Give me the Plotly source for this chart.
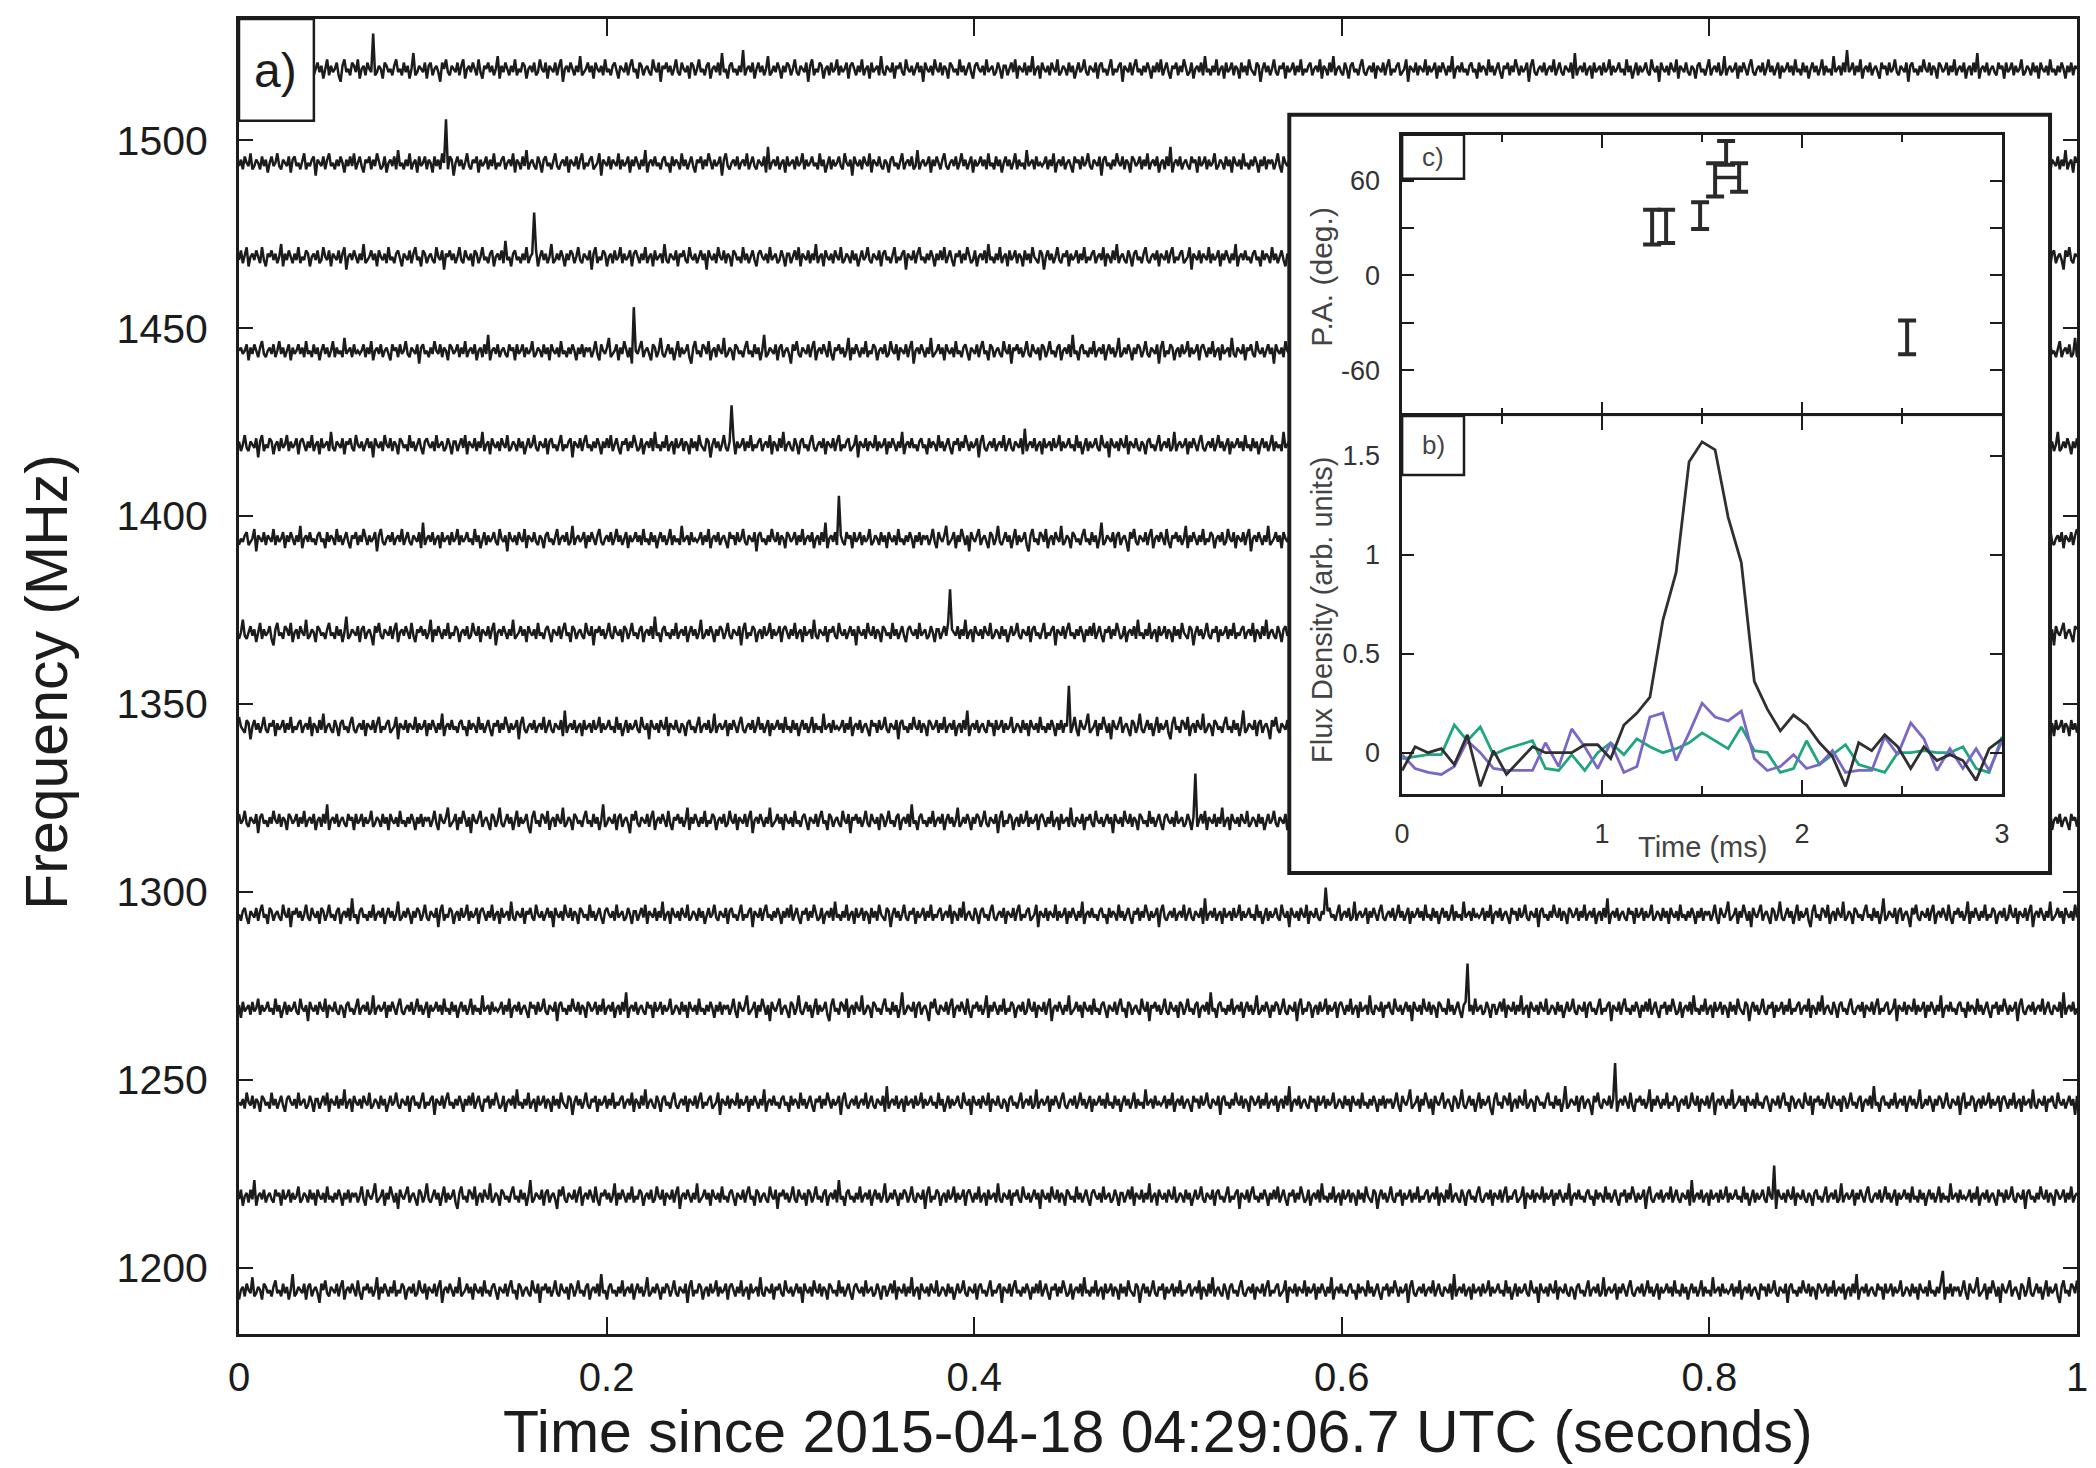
import plotly.graph_objects as go

# ---------------- main panel a) data ----------------
CHANNEL_MHZ = [1519, 1494, 1469, 1444, 1419, 1394, 1369, 1344, 1319, 1294, 1269, 1244, 1219, 1194]
PULSE_TIME_S = [0.073, 0.113, 0.161, 0.215, 0.268, 0.326, 0.387, 0.451, 0.520, 0.591, 0.668, 0.749, 0.835, 0.927]
PULSE_HEIGHT_MHZ = [9.4, 11.6, 11.8, 11.6, 10.5, 11.4, 11.5, 10.8, 12.5, 7.1, 11.9, 10.4, 8.1, 5.1]
EXTRA_CHANNEL = [0, 0]
EXTRA_TIME_S = [0.274, 0.875]
EXTRA_HEIGHT_MHZ = [5.0, 5.0]
NOISE_UNIT_MHZ = 0.85
NOISE_START = [0, 421, 113, 777, 287, 601, 35, 527, 861, 193, 705, 359, 899, 63]
NOISE = [
    1,-2,0,3,-1,-3,2,0,-1,1,4,-2,-1,0,2,-3,1,-1,3,0,-2,1,-4,2,0,-1,1,3,-2,0,1,-1,-3,2,1,-2,0,4,-1,-2,
    0,2,-1,1,-3,0,3,-2,1,-1,0,2,-2,-4,1,3,-1,0,-2,2,1,-1,3,-3,0,1,-2,2,0,-1,4,-2,-1,1,0,-3,2,1,-1,0,
    -2,1,3,-1,0,-2,2,-1,1,-3,0,5,-2,-1,1,0,-1,2,-3,1,2,-2,0,1,-1,-4,2,0,3,-1,-2,1,0,-1,2,-2,1,3,-3,0,
    1,-1,2,0,-2,3,-1,-3,1,0,2,-1,1,-2,0,4,-3,1,-1,2,0,-2,1,-1,3,-2,0,-1,2,1,-3,0,1,-1,2,-2,-1,3,0,-1,
    2,-3,1,0,-1,2,-2,1,3,-4,0,1,-1,2,0,-2,1,-1,4,-2,-1,0,2,-1,1,-3,2,0,-1,1,-2,3,-1,0,-2,1,2,-1,-3,1,
    0,-1,2,-2,1,3,-1,0,-3,2,1,-2,0,1,-1,-2,3,0,-1,2,-4,1,0,2,-1,1,-2,0,3,-1,-2,2,0,-1,1,-3,2,1,-2,0,
    3,-1,0,-2,1,2,-3,0,1,-1,2,-2,5,-1,0,-3,1,2,-1,0,-2,1,-1,3,-2,0,1,-1,2,-3,0,2,-1,1,-2,0,4,-2,-1,1,
    -1,2,0,-3,1,-1,2,1,-2,0,3,-1,-2,1,0,-1,2,-4,1,3,-2,0,-1,2,1,-3,0,1,-2,2,-1,0,3,-2,1,-1,0,2,-3,1,
    2,0,-2,1,-1,3,-2,0,1,-3,2,-1,0,1,-2,4,-1,-2,1,0,-1,2,-3,1,0,2,-1,-2,3,0,-1,1,-2,0,2,-1,1,-4,2,0,
    -1,1,-2,3,0,-1,2,-2,1,0,-3,2,1,-1,0,-2,3,-1,1,-2,0,2,-1,-3,1,2,0,-1,1,-2,3,-1,0,1,-2,-1,2,0,-3,1,
    1,-2,0,2,-1,3,-3,1,0,-1,2,-2,1,-1,4,-2,0,1,-3,2,0,-1,1,-2,2,0,-1,3,-2,-1,1,0,-2,2,-1,1,-3,0,2,-1,
    0,3,-1,-2,1,0,-1,2,-3,1,2,-1,0,-2,1,3,-2,0,-1,1,2,-4,1,0,-1,2,-2,1,3,-1,0,-2,1,-1,2,0,-3,1,-1,2,
    -1,3,-2,0,2,-1,-3,1,0,2,-2,1,-1,3,0,-2,-1,2,-3,0,1,-1,2,-2,4,-1,0,-2,1,-1,3,-2,0,1,-3,2,-1,0,2,-2,
    1,0,-3,2,-1,1,-2,3,0,-1,-2,2,1,-4,0,2,-1,1,-2,0,3,-1,-2,1,0,2,-3,1,-1,0,2,-2,1,-1,3,-2,0,-1,1,2,
    -2,0,1,-1,3,-3,1,0,-2,2,-1,4,-2,0,1,-1,-2,2,0,-3,1,2,-1,0,-2,1,3,-1,-2,0,1,-1,2,-3,1,0,-1,2,-2,1,
    3,-2,0,-1,1,2,-2,-1,0,3,-4,1,0,-1,2,-2,1,0,-1,3,-2,1,-1,0,2,-3,1,-1,2,0,-2,1,-1,4,-3,0,1,-1,2,-1,
    0,-2,1,2,-1,0,-3,2,-1,1,0,-2,3,-1,1,-2,0,2,-1,-3,1,0,2,-2,1,-1,3,0,-2,1,-1,0,2,-4,1,3,-1,-2,0,1,
    -1,2,-2,0,1,-1,3,-2,0,2,-1,-2,1,0,-1,2,-3,5,-2,0,1,-1,2,-2,0,1,-3,2,-1,0,1,-2,2,-1,0,3,-2,1,-1,0,
    2,-1,0,-2,3,-1,1,-3,0,2,-2,1,-1,0,2,-1,-2,3,0,-1,1,-4,2,0,-1,1,-2,2,0,-1,3,-3,1,0,-1,2,-1,-2,1,0,
    -3,1,2,-1,0,-2,1,3,-2,0,1,-1,2,-2,-1,4,-2,0,1,-1,0,2,-3,1,-1,2,0,-2,1,3,-1,-2,0,1,-1,2,-2,0,3,-1,
    1,-2,0,2,-3,1,-1,0,2,-1,1,-2,3,-1,0,-2,2,-1,1,-3,0,2,-1,1,-2,0,3,-2,1,-1,0,-2,4,-1,0,1,-2,2,-1,0,
    -1,0,2,-2,1,-1,3,-3,0,1,-1,2,-2,0,1,-1,-3,2,0,1,-2,2,-1,0,3,-1,-2,1,0,-1,2,-4,1,2,-1,0,-2,1,-1,3,
    0,-1,2,-2,1,0,-3,2,1,-1,0,2,-2,1,-1,3,-2,0,1,-1,2,-3,0,1,-2,2,-1,5,-3,0,1,-1,2,-2,0,1,-1,-2,2,0,
    1,-3,2,-1,0,2,-2,1,-1,0,3,-2,-1,1,0,-2,2,-1,1,-3,2,0,-1,1,-2,3,-1,0,-2,1,-1,2,0,-3,1,-1,2,-2,1,0,
]
X_TICKS = [0, 0.2, 0.4, 0.6, 0.8, 1]
X_TICK_TEXT = ["0", "0.2", "0.4", "0.6", "0.8", "1"]
Y_TICKS = [1200, 1250, 1300, 1350, 1400, 1450, 1500]

# ---------------- inset b) flux density ----------------
FLUX_T_MS = [0.000, 0.065, 0.130, 0.196, 0.261, 0.326, 0.391, 0.457, 0.522, 0.587,
             0.652, 0.717, 0.783, 0.848, 0.913, 0.978, 1.043, 1.109, 1.174, 1.239,
             1.304, 1.370, 1.435, 1.500, 1.565, 1.630, 1.696, 1.761, 1.826, 1.891,
             1.957, 2.022, 2.087, 2.152, 2.217, 2.283, 2.348, 2.413, 2.478, 2.543,
             2.609, 2.674, 2.739, 2.804, 2.870, 2.935, 3.000]
FLUX_TOTAL = [-0.09, 0.03, 0.00, 0.02, -0.06, 0.09, -0.17, 0.01, -0.11, -0.04,
              0.03, 0.00, 0.00, 0.00, 0.04, 0.04, -0.03, 0.14, 0.20, 0.28,
              0.67, 0.91, 1.47, 1.57, 1.53, 1.19, 0.96, 0.36, 0.22, 0.11,
              0.19, 0.14, 0.05, -0.02, -0.17, 0.05, 0.01, 0.09, 0.03, -0.08,
              0.03, -0.04, -0.01, -0.04, -0.14, 0.02, 0.07]
FLUX_PURPLE = [-0.01, -0.08, -0.10, -0.11, -0.07, 0.06, 0.00, -0.08, -0.09, -0.09,
               -0.09, 0.05, -0.07, 0.12, 0.03, -0.08, 0.05, -0.10, -0.07, 0.18,
               0.20, -0.04, 0.10, 0.25, 0.18, 0.16, 0.21, -0.03, -0.09, -0.07,
               -0.01, -0.08, -0.06, 0.01, -0.10, -0.09, -0.09, 0.08, -0.01, 0.15,
               0.07, -0.09, 0.02, -0.08, 0.02, -0.09, 0.06]
FLUX_GREEN = [-0.03, -0.02, -0.01, -0.01, 0.14, 0.06, 0.13, -0.01, 0.02, 0.04,
              0.06, -0.08, -0.09, -0.01, -0.09, 0.00, 0.05, -0.01, 0.07, 0.03,
              0.00, 0.02, 0.05, 0.10, 0.06, 0.02, 0.13, 0.01, 0.00, -0.10,
              -0.08, 0.06, -0.06, -0.01, 0.04, -0.06, -0.08, -0.10, 0.00, 0.00,
              0.01, 0.00, 0.00, 0.03, -0.08, -0.10, 0.08]

# ---------------- inset c) position angle ----------------
PA_T_MS = [1.25, 1.32, 1.49, 1.565, 1.62, 1.685, 2.525]
PA_DEG = [30.5, 31.0, 37.8, 60.5, 77.5, 62.0, -39.2]
PA_ERR = [11.0, 10.5, 8.5, 10.5, 7.5, 9.0, 10.7]
PA_T_ERR_MINUS = [0, 0, 0, 0, 0, 0.12, 0]
PA_T_ERR_PLUS = [0, 0, 0, 0, 0, 0, 0]

# ---------------- layout geometry (page pixels) ----------------
PAGE_OFF = 8            # default body margin of the written html page
W, H = 2096, 1468
PLOT_L, PLOT_R, PLOT_T, PLOT_B = 239, 2080, 16, 1334
PW, PH = PLOT_R - PLOT_L, PLOT_B - PLOT_T


def px(x):
    return (x - PLOT_L) / PW


def py(y):
    return (PLOT_B - y) / PH


INK = "#1c1c1c"
FONT = "Liberation Sans, Arial, Helvetica, sans-serif"

fig = go.Figure()

# main traces
n = len(NOISE)
t_axis = [i / (n - 1) for i in range(n)]
for k, base in enumerate(CHANNEL_MHZ):
    ys = [base + NOISE_UNIT_MHZ * NOISE[(NOISE_START[k] + i) % n] for i in range(n)]
    j = round(PULSE_TIME_S[k] * (n - 1))
    ys[j] = base + PULSE_HEIGHT_MHZ[k]
    for c, te, he in zip(EXTRA_CHANNEL, EXTRA_TIME_S, EXTRA_HEIGHT_MHZ):
        if c == k:
            ys[round(te * (n - 1))] = base + he
    fig.add_trace(go.Scatter(x=t_axis, y=ys, mode="lines",
                             line=dict(color=INK, width=2.5),
                             hoverinfo="skip", showlegend=False,
                             xaxis="x", yaxis="y"))

# dummy subplot giving the white inset background
fig.add_trace(go.Scatter(x=[], y=[], xaxis="x2", yaxis="y2", showlegend=False, hoverinfo="skip"))

# panel c: position angle
fig.add_trace(go.Scatter(
    x=PA_T_MS, y=PA_DEG, mode="markers", xaxis="x3", yaxis="y3",
    marker=dict(size=1, color="rgba(0,0,0,0)"),
    error_y=dict(type="data", array=PA_ERR, color="#2a2a2a", thickness=4, width=9),
    error_x=dict(type="data", symmetric=False, array=PA_T_ERR_PLUS, arrayminus=PA_T_ERR_MINUS,
                 color="#2a2a2a", thickness=3.5, width=0),
    showlegend=False, hoverinfo="skip"))

# panel b: flux density
fig.add_trace(go.Scatter(x=FLUX_T_MS, y=FLUX_GREEN, mode="lines", xaxis="x4", yaxis="y4",
                         line=dict(color="#1fa67f", width=2.8), showlegend=False, hoverinfo="skip"))
fig.add_trace(go.Scatter(x=FLUX_T_MS, y=FLUX_PURPLE, mode="lines", xaxis="x4", yaxis="y4",
                         line=dict(color="#7b68c6", width=2.8), showlegend=False, hoverinfo="skip"))
fig.add_trace(go.Scatter(x=FLUX_T_MS, y=FLUX_TOTAL, mode="lines", xaxis="x4", yaxis="y4",
                         line=dict(color="#303030", width=2.8), showlegend=False, hoverinfo="skip"))

# inset geometry in paper coords
IN_X0, IN_X1 = px(1291), px(2053)
IN_Y0, IN_Y1 = py(872), py(112)
P_X0, P_X1 = px(1404), px(2005)
C_Y0, C_Y1 = py(414), py(132)
B_Y0, B_Y1 = py(793), py(414)

axis_common = dict(showgrid=False, zeroline=False, showline=True, mirror="allticks",
                   linecolor=INK, ticks="inside", tickcolor=INK)
INSET_TICK_FONT = dict(size=27, color="#333")

fig.update_layout(
    width=W - PAGE_OFF, height=H - PAGE_OFF,
    margin=dict(l=PLOT_L - PAGE_OFF, r=W - PLOT_R, t=PLOT_T - PAGE_OFF, b=H - PLOT_B),
    paper_bgcolor="white", plot_bgcolor="white",
    hovermode=False,
    font=dict(family=FONT, color=INK),
    xaxis=dict(domain=[0, 1], range=[0, 1], tickvals=X_TICKS, ticktext=X_TICK_TEXT,
               ticklen=17, tickwidth=2, linewidth=3, tickfont=dict(size=40, color=INK),
               ticklabelstandoff=6, anchor="y", **axis_common),
    yaxis=dict(domain=[0, 1], range=[1182.3, 1532.3], tickvals=Y_TICKS,
               ticklen=14, tickwidth=2, linewidth=3, tickfont=dict(size=41, color=INK),
               ticklabelstandoff=20, anchor="x", **axis_common),
    xaxis2=dict(domain=[IN_X0, IN_X1], range=[0, 1], visible=True, showgrid=False, zeroline=False,
                showline=False, ticks="", showticklabels=False, anchor="y2"),
    yaxis2=dict(domain=[IN_Y0, IN_Y1], range=[0, 1], visible=True, showgrid=False, zeroline=False,
                showline=False, ticks="", showticklabels=False, anchor="x2"),
    xaxis3=dict(domain=[P_X0, P_X1], range=[0, 3], tickvals=[1, 2], showticklabels=False,
                ticklen=14, tickwidth=2, linewidth=2.5, anchor="y3",
                minor=dict(tickvals=[0.5, 1.5, 2.5], ticklen=8, tickwidth=2, ticks="inside", tickcolor=INK),
                **axis_common),
    yaxis3=dict(domain=[C_Y0, C_Y1], range=[-89, 89], tickvals=[-60, -30, 0, 30, 60],
                ticktext=["-60", "", "0", "", "60"], ticklen=12, tickwidth=2, linewidth=2.5,
                tickfont=INSET_TICK_FONT, ticklabelstandoff=14, anchor="x3", **axis_common),
    xaxis4=dict(domain=[P_X0, P_X1], range=[0, 3], tickvals=[0, 1, 2, 3], ticktext=["0", "1", "2", "3"],
                ticklen=14, tickwidth=2, linewidth=2.5, tickfont=INSET_TICK_FONT,
                ticklabelstandoff=14, anchor="y4",
                minor=dict(tickvals=[0.5, 1.5, 2.5], ticklen=8, tickwidth=2, ticks="inside", tickcolor=INK),
                **axis_common),
    yaxis4=dict(domain=[B_Y0, B_Y1], range=[-0.21, 1.70], tickvals=[0, 0.5, 1, 1.5],
                ticktext=["0", "0.5", "1", "1.5"], ticklen=12, tickwidth=2, linewidth=2.5,
                tickfont=INSET_TICK_FONT, ticklabelstandoff=14, anchor="x4", **axis_common),
)

shapes = [
    # inset frame
    dict(type="rect", xref="paper", yref="paper", x0=IN_X0, x1=IN_X1, y0=IN_Y0, y1=IN_Y1,
         line=dict(color=INK, width=4), fillcolor="rgba(0,0,0,0)", layer="above"),
    # a) box
    dict(type="rect", xref="paper", yref="paper", x0=0, x1=px(314), y0=py(118), y1=1,
         line=dict(color=INK, width=2.5), fillcolor="white", layer="above"),
    # c) box
    dict(type="rect", xref="paper", yref="paper", x0=P_X0, x1=px(1466), y0=py(176), y1=C_Y1,
         line=dict(color=INK, width=2.5), fillcolor="white", layer="above"),
    # b) box
    dict(type="rect", xref="paper", yref="paper", x0=P_X0, x1=px(1466), y0=py(473), y1=B_Y1,
         line=dict(color=INK, width=2.5), fillcolor="white", layer="above"),
]
fig.update_layout(shapes=shapes)

annotations = [
    dict(text="a)", x=px(276), y=py(68), xref="paper", yref="paper", showarrow=False,
         font=dict(size=48, color=INK), xanchor="center", yanchor="middle"),
    dict(text="c)", x=px(1435), y=py(154), xref="paper", yref="paper", showarrow=False,
         font=dict(size=26, color="#444"), xanchor="center", yanchor="middle"),
    dict(text="b)", x=px(1435), y=py(443), xref="paper", yref="paper", showarrow=False,
         font=dict(size=26, color="#444"), xanchor="center", yanchor="middle"),
    dict(text="Time (ms)", x=px(1705), y=py(846), xref="paper", yref="paper", showarrow=False,
         font=dict(size=29, color="#444"), xanchor="center", yanchor="middle"),
    dict(text="P.A. (deg.)", x=px(1323), y=py(274), xref="paper", yref="paper", showarrow=False,
         textangle=-90, font=dict(size=30, color="#444"), xanchor="center", yanchor="middle"),
    dict(text="Flux Density (arb. units)", x=px(1323), y=py(608), xref="paper", yref="paper",
         showarrow=False, textangle=-90, font=dict(size=29, color="#444"),
         xanchor="center", yanchor="middle"),
    dict(text="Time since 2015-04-18 04:29:06.7 UTC (seconds)", x=0.5, y=py(1432),
         xref="paper", yref="paper", showarrow=False, font=dict(size=59, color=INK),
         xanchor="center", yanchor="middle"),
    dict(text="Frequency (MHz)", x=px(47), y=py(680), xref="paper", yref="paper",
         showarrow=False, textangle=-90, font=dict(size=59, color=INK),
         xanchor="center", yanchor="middle"),
]
fig.update_layout(annotations=annotations)

fig.write_html("out.html")
